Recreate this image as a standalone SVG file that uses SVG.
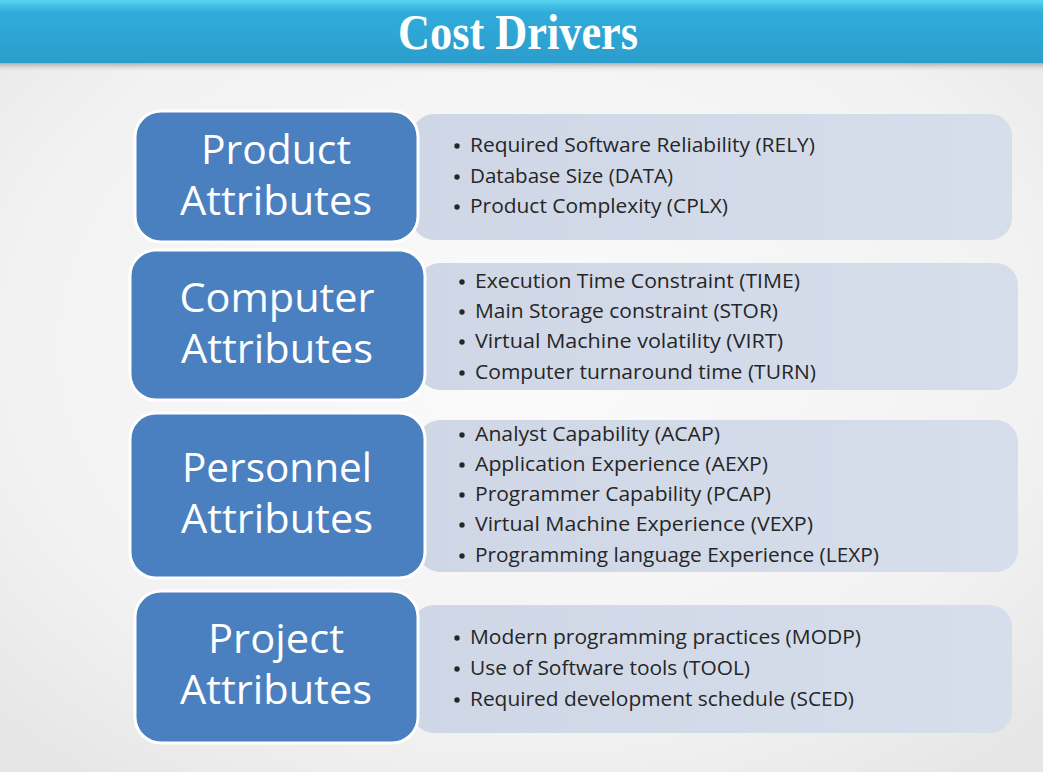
<svg xmlns="http://www.w3.org/2000/svg" width="1043" height="772" viewBox="0 0 1043 772">
  <defs>
    <radialGradient id="bg" cx="0.5" cy="0.45" r="0.7">
      <stop offset="0" stop-color="#fbfbfb"/>
      <stop offset="0.7" stop-color="#f2f2f2"/>
      <stop offset="1" stop-color="#e6e6e6"/>
    </radialGradient>
    <linearGradient id="bar" x1="0" y1="0" x2="0" y2="1">
      <stop offset="0" stop-color="#5cd6f2"/>
      <stop offset="0.08" stop-color="#46c2e8"/>
      <stop offset="0.2" stop-color="#30acda"/>
      <stop offset="1" stop-color="#2b9dcc"/>
    </linearGradient>
    <linearGradient id="shade" x1="0" y1="0" x2="0" y2="1">
      <stop offset="0" stop-color="#8a8a8a" stop-opacity="0.8"/>
      <stop offset="1" stop-color="#e8e8e8" stop-opacity="0"/>
    </linearGradient>
    <linearGradient id="lite" x1="0" y1="0" x2="1" y2="0">
      <stop offset="0" stop-color="#cfd7e6"/>
      <stop offset="1" stop-color="#d6deec"/>
    </linearGradient>
  </defs>
  <style>
    .blue { fill: #4a7fc0; stroke: #ffffff; stroke-width: 3; }
    .lite { fill: url(#lite); }
    .head { font-family: "Open Sans", "Liberation Sans", sans-serif; font-size: 41px; fill: #ffffff; text-anchor: middle; }
    .item { font-family: "Open Sans", "Liberation Sans", sans-serif; font-size: 20px; fill: #262626; }
    .dot { fill: #262626; }
    .title { font-family: "Liberation Serif", "Times New Roman", serif; font-weight: bold; font-size: 50px; fill: #ffffff; text-anchor: middle; }
  </style>

  <!-- slide background -->
  <rect x="0" y="0" width="1043" height="772" fill="url(#bg)"/>

  <!-- title bar -->
  <rect x="0" y="62" width="1043" height="10" fill="url(#shade)"/>
  <rect x="0" y="0" width="1043" height="63" fill="url(#bar)"/>
  <text class="title" x="518" y="49" textLength="240" lengthAdjust="spacingAndGlyphs">Cost Drivers</text>

  <!-- Product -->
  <g id="product">
    <rect class="lite" x="412" y="114" width="600" height="126" rx="22"/>
    <rect class="blue" x="135" y="111" width="283" height="131" rx="26"/>
    <text class="head" x="276" y="164" textLength="150" lengthAdjust="spacingAndGlyphs">Product</text>
    <text class="head" x="276" y="215" textLength="192" lengthAdjust="spacingAndGlyphs">Attributes</text>
    <circle class="dot" cx="457" cy="146" r="2.7"/>
    <circle class="dot" cx="457" cy="177" r="2.7"/>
    <circle class="dot" cx="457" cy="207" r="2.7"/>
    <text class="item" x="470" y="152" textLength="345" lengthAdjust="spacingAndGlyphs">Required Software Reliability (RELY)</text>
    <text class="item" x="470" y="183" textLength="203" lengthAdjust="spacingAndGlyphs">Database Size (DATA)</text>
    <text class="item" x="470" y="213" textLength="258" lengthAdjust="spacingAndGlyphs">Product Complexity (CPLX)</text>
  </g>

  <!-- Computer -->
  <g id="computer">
    <rect class="lite" x="418" y="263" width="600" height="127" rx="22"/>
    <rect class="blue" x="130" y="250" width="295" height="150" rx="26"/>
    <text class="head" x="277" y="312" textLength="195" lengthAdjust="spacingAndGlyphs">Computer</text>
    <text class="head" x="277" y="363" textLength="192" lengthAdjust="spacingAndGlyphs">Attributes</text>
    <circle class="dot" cx="462" cy="282" r="2.7"/>
    <circle class="dot" cx="462" cy="312" r="2.7"/>
    <circle class="dot" cx="462" cy="342" r="2.7"/>
    <circle class="dot" cx="462" cy="373" r="2.7"/>
    <text class="item" x="475" y="288" textLength="325" lengthAdjust="spacingAndGlyphs">Execution Time Constraint (TIME)</text>
    <text class="item" x="475" y="318" textLength="303" lengthAdjust="spacingAndGlyphs">Main Storage constraint (STOR)</text>
    <text class="item" x="475" y="348" textLength="308" lengthAdjust="spacingAndGlyphs">Virtual Machine volatility (VIRT)</text>
    <text class="item" x="475" y="379" textLength="341" lengthAdjust="spacingAndGlyphs">Computer turnaround time (TURN)</text>
  </g>

  <!-- Personnel -->
  <g id="personnel">
    <rect class="lite" x="418" y="420" width="600" height="152" rx="22"/>
    <rect class="blue" x="130" y="413" width="295" height="165" rx="26"/>
    <text class="head" x="277" y="482" textLength="190" lengthAdjust="spacingAndGlyphs">Personnel</text>
    <text class="head" x="277" y="533" textLength="192" lengthAdjust="spacingAndGlyphs">Attributes</text>
    <circle class="dot" cx="462" cy="435" r="2.7"/>
    <circle class="dot" cx="462" cy="465" r="2.7"/>
    <circle class="dot" cx="462" cy="495" r="2.7"/>
    <circle class="dot" cx="462" cy="525" r="2.7"/>
    <circle class="dot" cx="462" cy="556" r="2.7"/>
    <text class="item" x="475" y="441" textLength="245" lengthAdjust="spacingAndGlyphs">Analyst Capability (ACAP)</text>
    <text class="item" x="475" y="471" textLength="293" lengthAdjust="spacingAndGlyphs">Application Experience (AEXP)</text>
    <text class="item" x="475" y="501" textLength="296" lengthAdjust="spacingAndGlyphs">Programmer Capability (PCAP)</text>
    <text class="item" x="475" y="531" textLength="338" lengthAdjust="spacingAndGlyphs">Virtual Machine Experience (VEXP)</text>
    <text class="item" x="475" y="562" textLength="404" lengthAdjust="spacingAndGlyphs">Programming language Experience (LEXP)</text>
  </g>

  <!-- Project -->
  <g id="project">
    <rect class="lite" x="412" y="605" width="600" height="128" rx="22"/>
    <rect class="blue" x="135" y="591" width="283" height="152" rx="26"/>
    <text class="head" x="276" y="653" textLength="136" lengthAdjust="spacingAndGlyphs">Project</text>
    <text class="head" x="276" y="704" textLength="192" lengthAdjust="spacingAndGlyphs">Attributes</text>
    <circle class="dot" cx="457" cy="638" r="2.7"/>
    <circle class="dot" cx="457" cy="669" r="2.7"/>
    <circle class="dot" cx="457" cy="700" r="2.7"/>
    <text class="item" x="470" y="644" textLength="391" lengthAdjust="spacingAndGlyphs">Modern programming practices (MODP)</text>
    <text class="item" x="470" y="675" textLength="280" lengthAdjust="spacingAndGlyphs">Use of Software tools (TOOL)</text>
    <text class="item" x="470" y="706" textLength="384" lengthAdjust="spacingAndGlyphs">Required development schedule (SCED)</text>
  </g>
</svg>
